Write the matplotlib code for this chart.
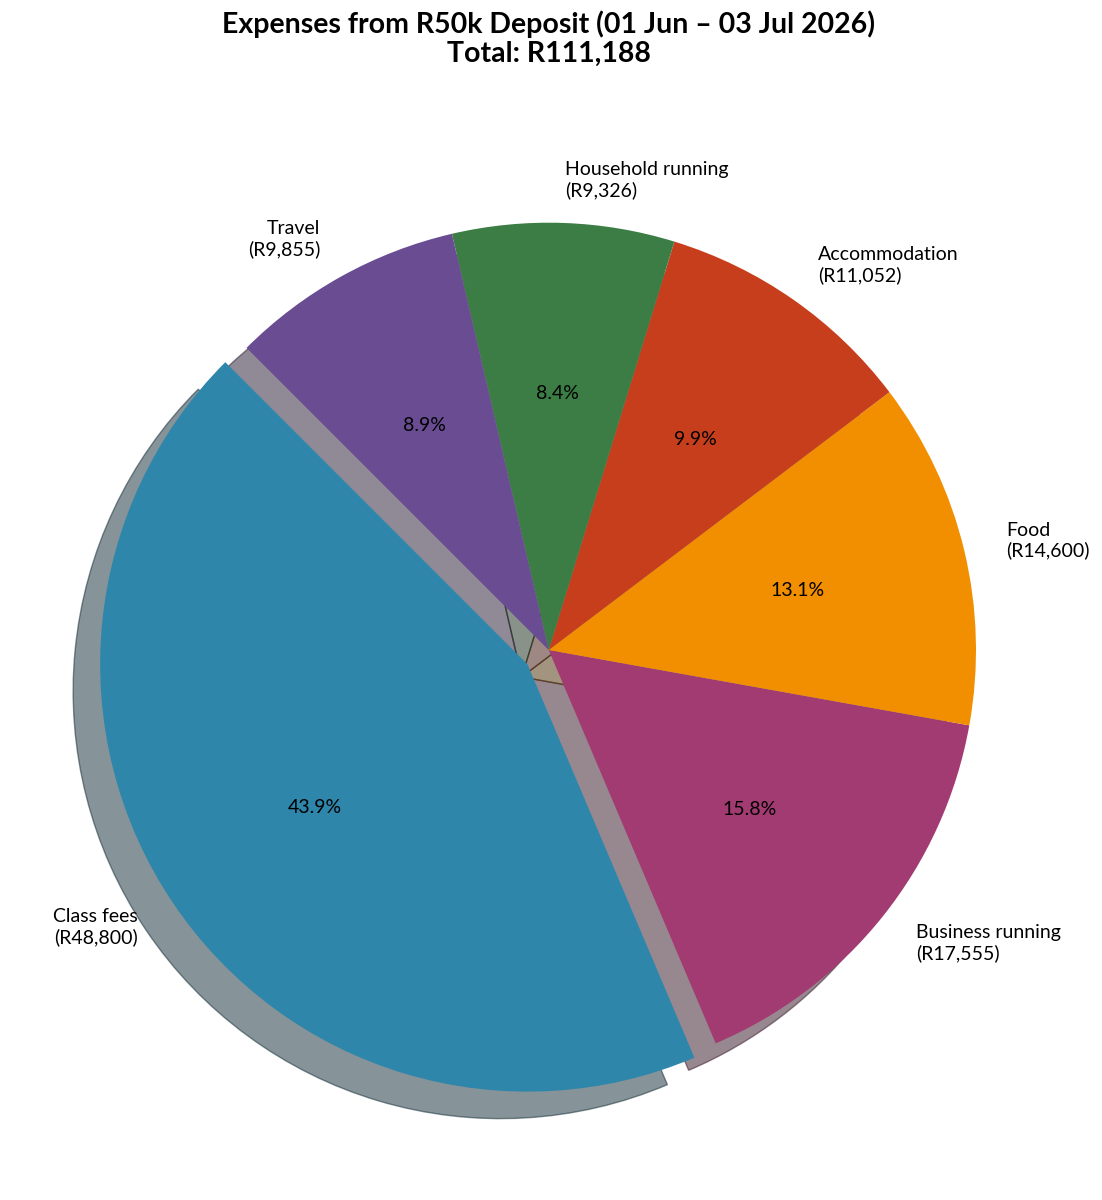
import matplotlib
matplotlib.use("Agg")
import matplotlib.pyplot as plt

categories = ["Class fees", "Business running", "Food", "Accommodation", "Household running", "Travel"]
amounts = [48800, 17555, 14600, 11052, 9326, 9855]
colors = ["#2E86AB", "#A23B72", "#F18F01", "#C73E1D", "#3B7D44", "#6A4C93"]
explode = [0.06, 0, 0, 0, 0, 0]
title = "Expenses from R50k Deposit (01 Jun – 03 Jul 2026)\nTotal: R111,188"

plt.rcParams['font.family'] = ['Lato', 'DejaVu Sans']

W, H = 1102, 1200
fig = plt.figure(figsize=(W / 100, H / 100), dpi=100)
cx, cy, r = 548.7, 650.0, 427.3
side = 2.5 * r
ax = fig.add_axes([(cx - side / 2) / W, (H - cy - side / 2) / H, side / W, side / H])
labels = [f"{c}\n(R{v:,})" for c, v in zip(categories, amounts)]
ax.pie(amounts, labels=labels, colors=colors, explode=explode, autopct="%1.1f%%",
       startangle=135, shadow={'ox': -0.0455, 'oy': -0.0455},
       textprops={'fontsize': 14})
ax.set_xlim(-1.25, 1.25)
ax.set_ylim(-1.25, 1.25)
fig.text(cx / W, 1 - 10 / H, title, ha='center', va='top', fontsize=20.5,
         fontweight='bold', multialignment='center', linespacing=1.15)
fig.savefig("out.png", dpi=100)
